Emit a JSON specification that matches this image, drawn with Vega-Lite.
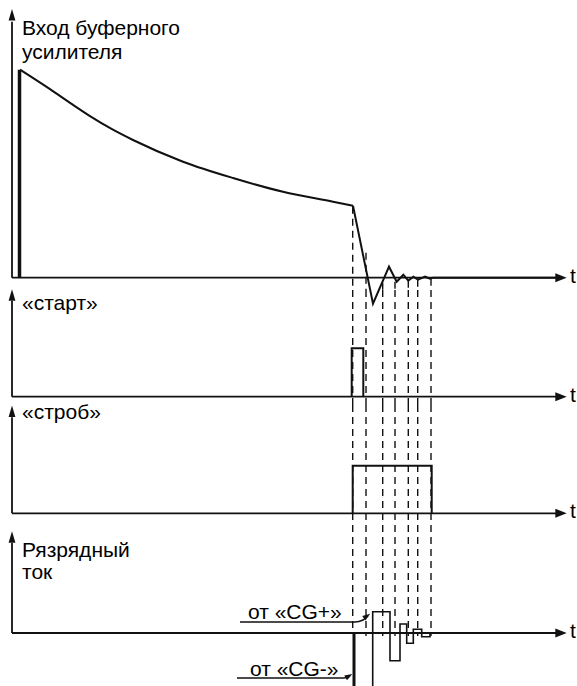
{
  "$schema": "https://vega.github.io/schema/vega-lite/v6.json",
  "padding": 0,
  "spacing": 0,
  "bounds": "flush",
  "config": {
    "view": {"stroke": null},
    "text": {"font": "Liberation Sans", "fontSize": 21, "color": "#000", "align": "left", "baseline": "middle"}
  },
  "vconcat": [
    {
      "width": 577, "height": 290,
      "encoding": {
        "x": {"field": "t", "type": "quantitative", "scale": {"domain": [-12, 565], "nice": false, "zero": false}, "axis": null},
        "y": {"field": "v", "type": "quantitative", "scale": {"domain": [-12.3, 277.7], "nice": false, "zero": false}, "axis": null}
      },
      "layer": [
        {"data": {"values": [{"t": 0, "v": 0, "t2": 0, "v2": 256}, {"t": 0, "v": 0, "t2": 549, "v2": 0}]},
         "mark": {"type": "rule", "strokeWidth": 1.8, "color": "#111"},
         "encoding": {"x2": {"field": "t2"}, "y2": {"field": "v2"}}},
        {"data": {"values": [{"t": 340.7, "v": 71, "v2": -12.3}, {"t": 354, "v": 25, "v2": -12.3}, {"t": 370.7, "v": -5, "v2": -12.3}, {"t": 383, "v": -4, "v2": -12.3}, {"t": 396.3, "v": -3, "v2": -12.3}, {"t": 405.7, "v": -2, "v2": -12.3}, {"t": 419, "v": -1, "v2": -12.3}]},
         "mark": {"type": "rule", "strokeWidth": 1.4, "strokeDash": [7, 5], "color": "#111"},
         "encoding": {"y2": {"field": "v2"}}},
        {"data": {"values": [{"t": 7.5, "v": 0, "v2": 208}]},
         "mark": {"type": "rule", "strokeWidth": 3.5, "color": "#111"},
         "encoding": {"y2": {"field": "v2"}}},
        {"data": {"values": [
          {"i": 1, "t": 8, "v": 208}, {"i": 2, "t": 38, "v": 188.5}, {"i": 3, "t": 60, "v": 173.5}, {"i": 4, "t": 78, "v": 161.6},
          {"i": 5, "t": 100, "v": 148.5}, {"i": 6, "t": 121, "v": 137.7}, {"i": 7, "t": 171, "v": 116}, {"i": 8, "t": 221, "v": 99.7},
          {"i": 9, "t": 271, "v": 86}, {"i": 10, "t": 321, "v": 76}, {"i": 11, "t": 341, "v": 72}
        ]},
         "mark": {"type": "line", "strokeWidth": 2, "color": "#111", "interpolate": "monotone"},
         "encoding": {"order": {"field": "i", "type": "quantitative"}}},
        {"data": {"values": [
          {"i": 9, "t": 341, "v": 72}, {"i": 10, "t": 361, "v": -26}, {"i": 11, "t": 377, "v": 11}, {"i": 12, "t": 384.7, "v": -4},
          {"i": 13, "t": 391.3, "v": 3}, {"i": 14, "t": 396.3, "v": -3}, {"i": 15, "t": 401.3, "v": 1}, {"i": 16, "t": 406, "v": -2},
          {"i": 17, "t": 413, "v": 1}, {"i": 18, "t": 418, "v": -1}, {"i": 19, "t": 421, "v": 0}, {"i": 20, "t": 549, "v": 0}
        ]},
         "mark": {"type": "line", "strokeWidth": 2, "color": "#111", "strokeJoin": "miter"},
         "encoding": {"order": {"field": "i", "type": "quantitative"}}},
        {"data": {"values": [{"t": 0, "v": 263, "dir": "up"}, {"t": 549, "v": 0, "dir": "right"}]},
         "mark": {"type": "point", "filled": true, "opacity": 1, "color": "#111", "size": 130},
         "encoding": {"shape": {"field": "dir", "type": "nominal", "scale": {"domain": ["up", "right"], "range": ["M0,-1L0.6,1L-0.6,1Z", "M1,0L-1,-0.8L-1,0.8Z"]}, "legend": null}}},
        {"data": {"values": [{"t": 10, "v": 249, "label": "Вход буферного"}, {"t": 10, "v": 225, "label": "усилителя"}, {"t": 558, "v": 1, "label": "t"}]},
         "mark": {"type": "text"},
         "encoding": {"text": {"field": "label"}}}
      ]
    },
    {
      "width": 577, "height": 115,
      "encoding": {
        "x": {"field": "t", "type": "quantitative", "scale": {"domain": [-12, 565], "nice": false, "zero": false}, "axis": null},
        "y": {"field": "v", "type": "quantitative", "scale": {"domain": [-8.3, 106.7], "nice": false, "zero": false}, "axis": null}
      },
      "layer": [
        {"data": {"values": [{"t": 0, "v": 0, "t2": 0, "v2": 96}, {"t": 0, "v": 0, "t2": 549, "v2": 0}]},
         "mark": {"type": "rule", "strokeWidth": 1.8, "color": "#111"},
         "encoding": {"x2": {"field": "t2"}, "y2": {"field": "v2"}}},
        {"data": {"values": [{"t": 340.7}, {"t": 354}, {"t": 370.7}, {"t": 383}, {"t": 396.3}, {"t": 405.7}, {"t": 419}]},
         "mark": {"type": "rule", "strokeWidth": 1.4, "strokeDash": [7, 5], "color": "#111"},
         "encoding": {"y": {"value": 0}, "y2": {"value": 115}}},
        {"data": {"values": [{"i": 1, "t": 339.7, "v": 0}, {"i": 2, "t": 339.7, "v": 48.4}, {"i": 3, "t": 351.3, "v": 48.4}, {"i": 4, "t": 351.3, "v": 0}]},
         "mark": {"type": "line", "strokeWidth": 2, "color": "#111", "strokeJoin": "miter"},
         "encoding": {"order": {"field": "i", "type": "quantitative"}}},
        {"data": {"values": [{"t": 0, "v": 101.7, "dir": "up"}, {"t": 549, "v": 0, "dir": "right"}]},
         "mark": {"type": "point", "filled": true, "opacity": 1, "color": "#111", "size": 130},
         "encoding": {"shape": {"field": "dir", "type": "nominal", "scale": {"domain": ["up", "right"], "range": ["M0,-1L0.6,1L-0.6,1Z", "M1,0L-1,-0.8L-1,0.8Z"]}, "legend": null}}},
        {"data": {"values": [{"t": 10, "v": 93, "label": "«старт»"}, {"t": 558, "v": 1, "label": "t"}]},
         "mark": {"type": "text"},
         "encoding": {"text": {"field": "label"}}}
      ]
    },
    {
      "width": 577, "height": 120,
      "encoding": {
        "x": {"field": "t", "type": "quantitative", "scale": {"domain": [-12, 565], "nice": false, "zero": false}, "axis": null},
        "y": {"field": "v", "type": "quantitative", "scale": {"domain": [-11.7, 108.3], "nice": false, "zero": false}, "axis": null}
      },
      "layer": [
        {"data": {"values": [{"t": 0, "v": 0, "t2": 0, "v2": 96}, {"t": 0, "v": 0, "t2": 549, "v2": 0}]},
         "mark": {"type": "rule", "strokeWidth": 1.8, "color": "#111"},
         "encoding": {"x2": {"field": "t2"}, "y2": {"field": "v2"}}},
        {"data": {"values": [{"t": 340.7}, {"t": 354}, {"t": 370.7}, {"t": 383}, {"t": 396.3}, {"t": 405.7}, {"t": 419}]},
         "mark": {"type": "rule", "strokeWidth": 1.4, "strokeDash": [7, 5], "color": "#111"},
         "encoding": {"y": {"value": 0}, "y2": {"value": 120}}},
        {"data": {"values": [{"i": 1, "t": 340.7, "v": 0}, {"i": 2, "t": 340.7, "v": 47.6}, {"i": 3, "t": 419.7, "v": 47.6}, {"i": 4, "t": 419.7, "v": 0}]},
         "mark": {"type": "line", "strokeWidth": 2, "color": "#111", "strokeJoin": "miter"},
         "encoding": {"order": {"field": "i", "type": "quantitative"}}},
        {"data": {"values": [{"t": 0, "v": 102, "dir": "up"}, {"t": 549, "v": 0, "dir": "right"}]},
         "mark": {"type": "point", "filled": true, "opacity": 1, "color": "#111", "size": 130},
         "encoding": {"shape": {"field": "dir", "type": "nominal", "scale": {"domain": ["up", "right"], "range": ["M0,-1L0.6,1L-0.6,1Z", "M1,0L-1,-0.8L-1,0.8Z"]}, "legend": null}}},
        {"data": {"values": [{"t": 10, "v": 100, "label": "«строб»"}, {"t": 558, "v": 1, "label": "t"}]},
         "mark": {"type": "text"},
         "encoding": {"text": {"field": "label"}}}
      ]
    },
    {
      "width": 577, "height": 161,
      "encoding": {
        "x": {"field": "t", "type": "quantitative", "scale": {"domain": [-12, 565], "nice": false, "zero": false}, "axis": null},
        "y": {"field": "v", "type": "quantitative", "scale": {"domain": [-53, 108], "nice": false, "zero": false}, "axis": null}
      },
      "layer": [
        {"data": {"values": [{"t": 0, "v": 0, "t2": 0, "v2": 90}, {"t": 0, "v": 0, "t2": 549, "v2": 0}]},
         "mark": {"type": "rule", "strokeWidth": 1.8, "color": "#111"},
         "encoding": {"x2": {"field": "t2"}, "y2": {"field": "v2"}}},
        {"data": {"values": [{"t": 340.7, "v": 108, "v2": 0}, {"t": 354, "v": 108, "v2": -3}, {"t": 370.7, "v": 108, "v2": -3}, {"t": 383, "v": 108, "v2": -3}, {"t": 396.3, "v": 108, "v2": -3}, {"t": 405.7, "v": 108, "v2": -3}, {"t": 419, "v": 108, "v2": -3}]},
         "mark": {"type": "rule", "strokeWidth": 1.4, "strokeDash": [7, 5], "color": "#111"},
         "encoding": {"y2": {"field": "v2"}}},
        {"data": {"values": [{"t": 342, "v": 0, "v2": -53}]},
         "mark": {"type": "rule", "strokeWidth": 3, "color": "#111"},
         "encoding": {"y2": {"field": "v2"}}},
        {"data": {"values": [
          {"i": 1, "t": 360.7, "v": -53}, {"i": 2, "t": 360.7, "v": 21.3}, {"i": 3, "t": 378, "v": 21.3}, {"i": 4, "t": 378, "v": -27.7},
          {"i": 5, "t": 388, "v": -27.7}, {"i": 6, "t": 388, "v": 9}, {"i": 7, "t": 394.7, "v": 9}, {"i": 8, "t": 394.7, "v": -10.3},
          {"i": 9, "t": 401.3, "v": -10.3}, {"i": 10, "t": 401.3, "v": 3.7}, {"i": 11, "t": 409.7, "v": 3.7}, {"i": 12, "t": 409.7, "v": -3.7},
          {"i": 13, "t": 418, "v": -3.7}, {"i": 14, "t": 418, "v": 0}
        ]},
         "mark": {"type": "line", "strokeWidth": 1.6, "color": "#111", "strokeJoin": "miter"},
         "encoding": {"order": {"field": "i", "type": "quantitative"}}},
        {"data": {"values": [
          {"g": "plus", "i": 1, "t": 228, "v": 11}, {"g": "plus", "i": 2, "t": 343, "v": 11}, {"g": "plus", "i": 3, "t": 351, "v": 13}, {"g": "plus", "i": 4, "t": 356, "v": 17},
          {"g": "minus", "i": 1, "t": 225, "v": -45}, {"g": "minus", "i": 2, "t": 332, "v": -45}, {"g": "minus", "i": 3, "t": 338, "v": -43}
        ]},
         "mark": {"type": "line", "strokeWidth": 1.5, "color": "#111", "interpolate": "monotone"},
         "encoding": {"detail": {"field": "g"}, "order": {"field": "i", "type": "quantitative"}}},
        {"data": {"values": [{"t": 355, "v": 17, "a": -35}, {"t": 337, "v": -43, "a": -30}]},
         "mark": {"type": "point", "filled": true, "opacity": 1, "color": "#111", "size": 60, "shape": "M1,0L-1,-0.7L-1,0.7Z"},
         "encoding": {"angle": {"field": "a", "type": "quantitative", "scale": null}}},
        {"data": {"values": [{"t": 0, "v": 96, "dir": "up"}, {"t": 549, "v": 0, "dir": "right"}]},
         "mark": {"type": "point", "filled": true, "opacity": 1, "color": "#111", "size": 130},
         "encoding": {"shape": {"field": "dir", "type": "nominal", "scale": {"domain": ["up", "right"], "range": ["M0,-1L0.6,1L-0.6,1Z", "M1,0L-1,-0.8L-1,0.8Z"]}, "legend": null}}},
        {"data": {"values": [{"t": 10, "v": 82, "label": "Рязрядный"}, {"t": 10, "v": 60, "label": "ток"}, {"t": 236, "v": 20.5, "label": "от «CG+»"}, {"t": 238, "v": -37, "label": "от «CG-»"}, {"t": 558, "v": 1, "label": "t"}]},
         "mark": {"type": "text"},
         "encoding": {"text": {"field": "label"}}}
      ]
    }
  ]
}
